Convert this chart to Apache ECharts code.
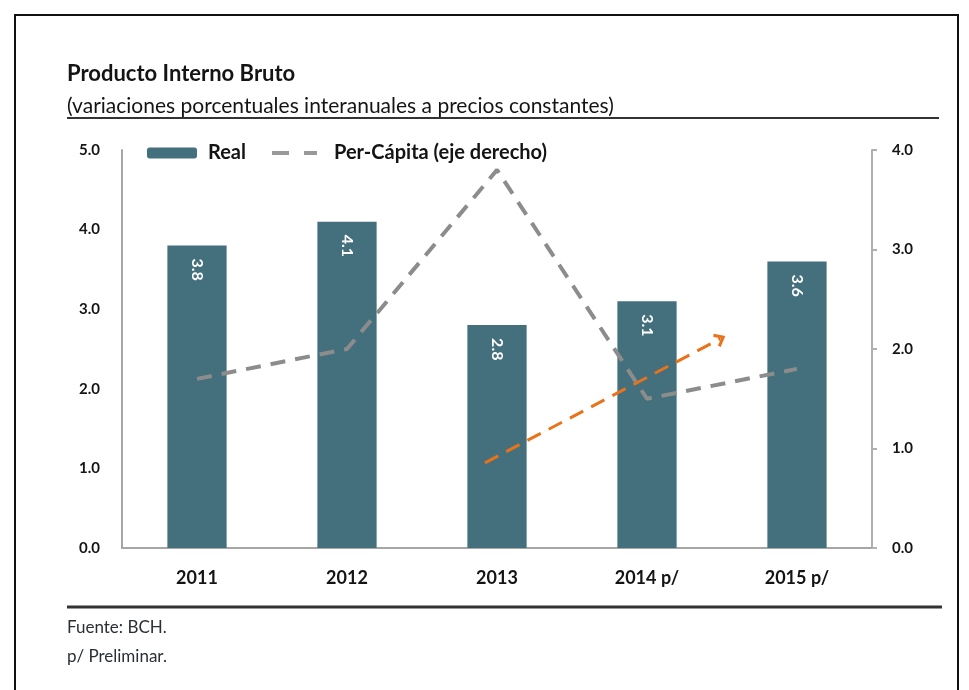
<!DOCTYPE html>
<html>
<head>
<meta charset="utf-8">
<script src="https://cdn.jsdelivr.net/npm/echarts@6/dist/echarts.min.js"></script>
<style>
  html, body { margin: 0; padding: 0; background: #fff; }
  #chart { width: 969px; height: 690px; }
</style>
</head>
<body>
<div id="chart"></div>
<script>
// Categories and values
const years = ['2011', '2012', '2013', '2014 p/', '2015 p/'];
const realGrowth = [3.8, 4.1, 2.8, 3.1, 3.6];          // left axis
const perCapitaGrowth = [1.7, 2.0, 3.8, 1.5, 1.8];     // right axis
const leftTicks = { min: 0, max: 5, interval: 1 };
const rightTicks = { min: 0, max: 4, interval: 1 };
// Trend arrow annotation: [category position, left-axis value]
const trendArrow = [[1.92, 1.07], [3.49, 2.63]];

const FONT = 'Lato, "Open Sans", sans-serif';
const barColor = '#43707c';
const lineGrey = '#8c8c8c';
const orange = '#e8731a';
const ink = '#141414';

const chart = echarts.init(document.getElementById('chart'), null, { renderer: 'canvas' });

chart.setOption({
  animation: false,
  backgroundColor: '#ffffff',
  textStyle: { fontFamily: FONT },
  title: [
    {
      text: 'Producto Interno Bruto',
      left: 67, top: 63, padding: 0,
      textStyle: { fontFamily: FONT, fontSize: 22, fontWeight: 'bold', color: ink }
    },
    {
      text: '(variaciones porcentuales interanuales a precios constantes)',
      left: 67, top: 96, padding: 0,
      textStyle: { fontFamily: FONT, fontSize: 21, fontWeight: 'normal', color: ink }
    }
  ],
  legend: [
    {
      data: ['Real'],
      left: 147, top: 143, padding: 0,
      itemWidth: 50, itemHeight: 11,
      textStyle: { fontFamily: FONT, fontSize: 20, fontWeight: 'bold', color: ink, padding: [0, 0, 0, 6] }
    },
    {
      data: ['Per-Cápita (eje derecho)'],
      left: 270, top: 143, padding: 0,
      itemWidth: 45, itemHeight: 11,
      itemStyle: { opacity: 0 },
      lineStyle: { width: 4, type: [17, 15], color: '#999999' },
      textStyle: { fontFamily: FONT, fontSize: 20, fontWeight: 'bold', color: ink, padding: [0, 0, 0, 12] }
    }
  ],
  grid: { left: 122, right: 97, top: 150, bottom: 142, containLabel: false },
  xAxis: [
    {
      type: 'category',
      data: years,
      axisLine: { onZero: false, lineStyle: { color: '#a6a6a6', width: 2 } },
      axisTick: { show: false },
      axisLabel: { margin: 21, fontFamily: FONT, fontSize: 18, fontWeight: 'bold', color: ink }
    },
    {
      type: 'value', min: -0.5, max: 4.5, show: false
    }
  ],
  yAxis: [
    {
      type: 'value',
      min: leftTicks.min, max: leftTicks.max, interval: leftTicks.interval,
      axisLine: { show: true, onZero: false, lineStyle: { color: '#a6a6a6', width: 2 } },
      axisTick: { show: false },
      splitLine: { show: false },
      axisLabel: {
        margin: 22, fontFamily: FONT, fontSize: 15, fontWeight: 'bold', color: ink,
        formatter: v => v.toFixed(1)
      }
    },
    {
      type: 'value',
      position: 'right',
      min: rightTicks.min, max: rightTicks.max, interval: rightTicks.interval,
      axisLine: { show: true, onZero: false, lineStyle: { color: '#b0b0b0', width: 2 } },
      axisTick: { show: true, inside: false, length: 5, lineStyle: { color: '#b0b0b0', width: 2 } },
      splitLine: { show: false },
      axisLabel: {
        margin: 20, fontFamily: FONT, fontSize: 15, fontWeight: 'bold', color: ink,
        formatter: v => v.toFixed(1)
      }
    }
  ],
  series: [
    {
      name: 'Real',
      type: 'bar',
      data: realGrowth,
      barWidth: '39.5%',
      itemStyle: { color: barColor },
      label: {
        show: true,
        position: 'insideTop',
        rotate: -90,
        align: 'left',
        verticalAlign: 'middle',
        distance: 13,
        color: '#ffffff',
        fontFamily: FONT,
        fontSize: 16,
        fontWeight: 'bold',
        formatter: p => p.value.toFixed(1)
      },
      labelLine: { show: false },
      z: 2
    },
    {
      name: 'Per-Cápita (eje derecho)',
      type: 'line',
      yAxisIndex: 1,
      data: perCapitaGrowth,
      symbol: 'none',
      lineStyle: { color: lineGrey, width: 4, type: [15, 10] },
      itemStyle: { color: lineGrey },
      z: 3
    },
    {
      name: 'Tendencia',
      type: 'line',
      xAxisIndex: 1,
      yAxisIndex: 0,
      data: trendArrow,
      symbol: 'none',
      lineStyle: { opacity: 0 },
      silent: true,
      z: 4,
      markLine: {
        silent: true,
        symbol: ['none', 'path://M0,11 L10,0 L20,11 L16.5,13 L10,5.5 L3.5,13 Z'],
        symbolSize: [15, 11],
        label: { show: false },
        lineStyle: { color: orange, width: 3, type: [15, 9] },
        data: [[{ coord: trendArrow[0] }, { coord: trendArrow[1] }]]
      }
    }
  ],
  graphic: [
    // outer frame
    { type: 'rect', shape: { x: 15, y: 15, width: 943, height: 700 },
      style: { fill: 'none', stroke: '#111', lineWidth: 2 }, silent: true },
    // rule under the subtitle
    { type: 'line', shape: { x1: 67, y1: 118, x2: 939, y2: 118 },
      style: { stroke: '#333', lineWidth: 2 }, silent: true },
    // rule above the notes
    { type: 'line', shape: { x1: 67, y1: 607, x2: 942, y2: 607 },
      style: { stroke: '#333', lineWidth: 3 }, silent: true },
    { type: 'text', left: 67, top: 619,
      style: { text: 'Fuente: BCH.', font: '17px ' + FONT, fill: '#2a2f36' } },
    { type: 'text', left: 67, top: 648,
      style: { text: 'p/ Preliminar.', font: '17px ' + FONT, fill: '#2a2f36' } }
  ]
});
</script>
</body>
</html>
